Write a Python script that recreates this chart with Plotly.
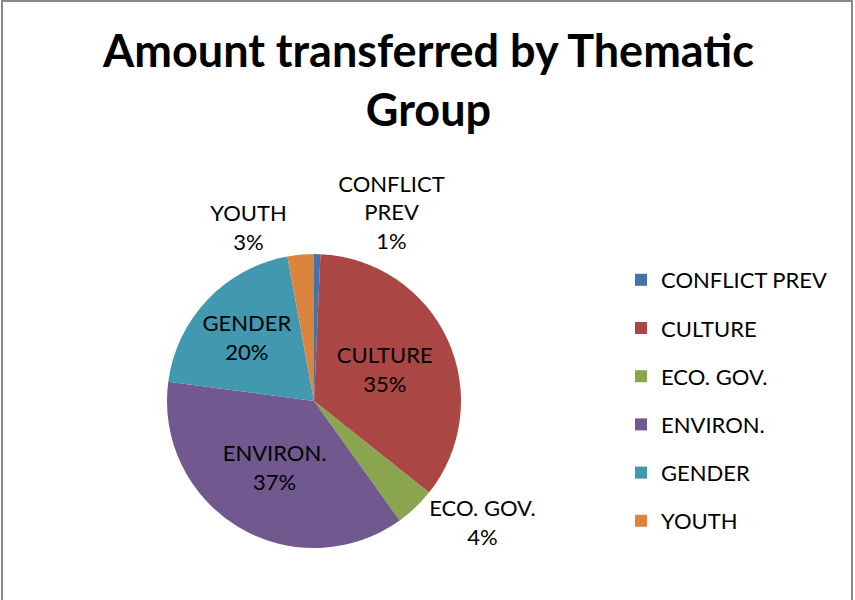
import plotly.graph_objects as go

categories = ["CONFLICT PREV", "CULTURE", "ECO. GOV.", "ENVIRON.", "GENDER", "YOUTH"]
slice_text = ["CONFLICT<br>PREV", "CULTURE", "ECO. GOV.", "ENVIRON.", "GENDER", "YOUTH"]
values = [0.7, 35.0, 4.4, 37.0, 20.0, 2.9]
colors = ["#4572A7", "#AA4643", "#89A54E", "#71588F", "#4198AF", "#DB843D"]
text_positions = ["outside", "inside", "outside", "inside", "inside", "outside"]

W, H = 855, 600
FONT = "Lato"

fig = go.Figure()
fig.add_trace(go.Pie(
    labels=categories,
    values=values,
    text=slice_text,
    sort=False,
    direction="clockwise",
    rotation=0,
    marker=dict(colors=colors, line=dict(width=0)),
    textposition=text_positions,
    texttemplate="%{text}<br>%{percent:.0%}",
    insidetextorientation="horizontal",
    textfont=dict(family=FONT, size=22, color="black"),
    domain=dict(x=[167 / W, 461 / W], y=[1 - 548 / H, 1 - 254 / H]),
    showlegend=False,
    hoverinfo="label+percent",
))

# legend entries drawn as square markers via dummy traces
for cat, col in zip(categories, colors):
    fig.add_trace(go.Scatter(
        x=[None], y=[None], mode="markers", name=cat,
        marker=dict(symbol="square", size=15, color=col),
        legendgroup=cat, showlegend=True,
    ))

fig.update_layout(
    width=W, height=H,
    margin=dict(l=0, r=0, t=0, b=0),
    paper_bgcolor="white", plot_bgcolor="white",
    xaxis=dict(visible=False), yaxis=dict(visible=False),
    legend=dict(
        x=621 / W, xanchor="left", y=1 - 259 / H, yanchor="top",
        font=dict(family=FONT, size=22, color="black"),
        tracegroupgap=16.6, itemsizing="constant",
        bgcolor="rgba(0,0,0,0)",
    ),
    annotations=[dict(
        text="<b>Amount transferred by Thematic<br>Group</b>",
        font=dict(family=FONT, size=45, color="black"),
        xref="paper", yref="paper", x=428 / W, y=1 - 21 / H,
        xanchor="center", yanchor="top", showarrow=False,
    )],
    shapes=[dict(type="rect", xref="paper", yref="paper",
                 x0=2 / W, x1=852 / W, y0=-0.01, y1=1 - 1 / H,
                 line=dict(color="#888888", width=2))],
)

fig.write_html("out.html", config={"displayModeBar": False},
               post_script="document.body.style.margin='0';")
